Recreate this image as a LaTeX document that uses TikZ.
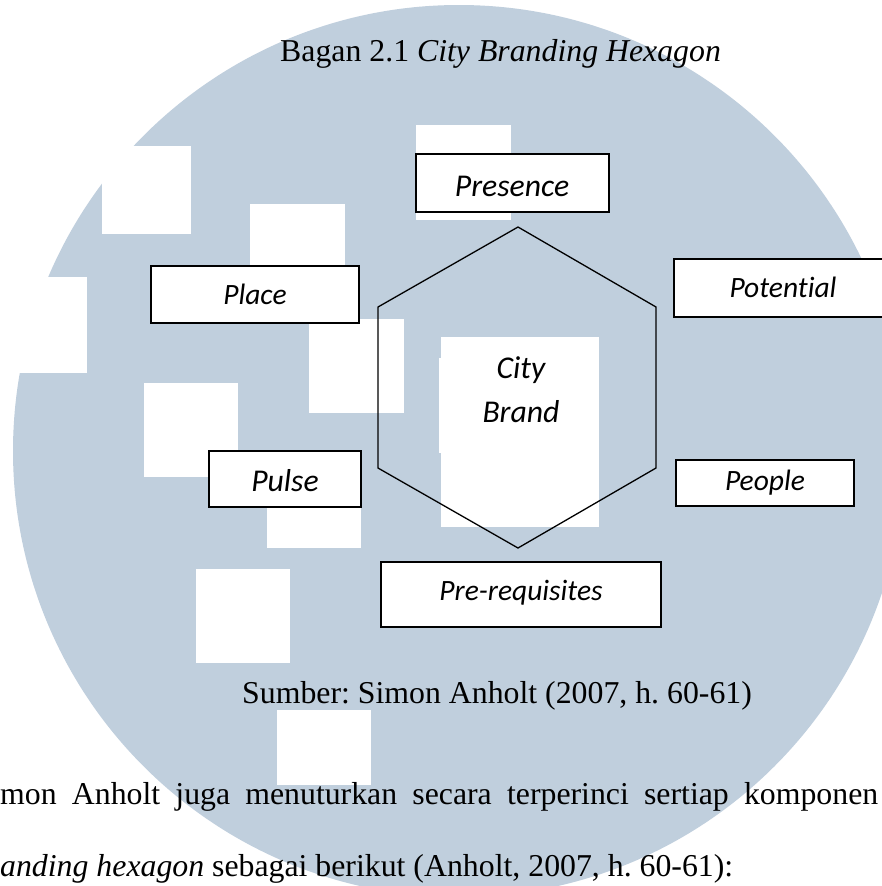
\documentclass[tikz,border=0pt]{standalone}
\usepackage{fontspec}
\setmainfont{Liberation Serif}
\newfontfamily\calfont[Ligatures=NoCommon]{Carlito}
\definecolor{wm}{RGB}{192,207,221}
\newcommand\bodyfs{\fontsize{31.8pt}{38pt}\selectfont}
\frenchspacing
\begin{document}
\begin{tikzpicture}[x=1pt,y=-1pt,
  boxnode/.style={draw=black, line width=1.6pt, fill=white, inner sep=0pt, rectangle},
  boxlabel/.style={inner sep=0pt, anchor=base, font=\calfont\itshape\fontsize{29.5pt}{35pt}\selectfont},
  biglabel/.style={boxlabel, font=\calfont\itshape\fontsize{31.7pt}{38pt}\selectfont},
  bodytext/.style={inner sep=0pt, font=\bodyfs},
  wsq/.style={fill=white}]
\clip (0,0) rectangle (882,886);
\fill[white] (0,0) rectangle (882,886);
% watermark circle
\fill[wm] (459,451) circle (446pt);
% white squares of the watermark
\fill[wsq] (102,146) rectangle (191,234);
\fill[wsq] (250,204) rectangle (345,299);
\fill[wsq] (0,277) rectangle (87,373);
\fill[wsq] (309,319) rectangle (404,413);
\fill[wsq] (144,383) rectangle (238,477);
\fill[wsq] (267,453) rectangle (361,548);
\fill[wsq] (196,569) rectangle (290,663);
\fill[wsq] (277,710) rectangle (371,785);
\fill[wsq] (416,125) rectangle (511,220);
\fill[wsq] (439,358) rectangle (445,453);
\fill[wsq] (441,337) rectangle (599,527);
% title
\node[bodytext, anchor=base west] (title) at (280,61) {Bagan 2.1 \textit{City Branding Hexagon}};
% hexagon
\coordinate (ht) at (518,227);
\coordinate (hur) at (656,307);
\coordinate (hlr) at (656,468);
\coordinate (hb) at (518,548);
\coordinate (hll) at (378,468);
\coordinate (hul) at (378,307);
\draw[line width=1.3pt, line join=miter] (ht) -- (hur) -- (hlr) -- (hb) -- (hll) -- (hul) -- cycle;
% boxes
\node[boxnode, minimum width=193pt, minimum height=58pt] (presence) at (512.5,183) {};
\node[boxnode, minimum width=208pt, minimum height=57pt] (place) at (255,294.5) {};
\node[boxnode, minimum width=216pt, minimum height=58pt] (potential) at (782,288) {};
\node[boxnode, minimum width=152pt, minimum height=56pt] (pulse) at (285,479) {};
\node[boxnode, minimum width=178pt, minimum height=46pt] (people) at (765,483) {};
\node[boxnode, minimum width=280pt, minimum height=65pt] (prereq) at (521,594.5) {};
% labels
\node[biglabel] (presenceT) at (512,196) {Presence};
\node[boxlabel] (placeT) at (255,304) {Place};
\node[boxlabel] (potentialT) at (783,297) {Potential};
\node[biglabel] (pulseT) at (285,491) {Pulse};
\node[boxlabel] (peopleT) at (765,490) {People};
\node[boxlabel] (prereqT) at (521,600) {Pre-requisites};
\node[biglabel] (cityT) at (521,378) {City};
\node[biglabel] (brandT) at (521,422) {Brand};
% source and paragraph
\node[bodytext, anchor=base west] (source) at (242,703) {Sumber: Simon Anholt (2007, h. 60-61)};
\node[bodytext, anchor=base west] (para1) at (0,804) {\makebox[878pt][s]{mon Anholt juga menuturkan secara terperinci sertiap komponen}};
\node[bodytext, anchor=base west] (para2) at (0,876) {\textit{anding hexagon} sebagai berikut (Anholt, 2007, h. 60-61):};
\end{tikzpicture}
\end{document}
